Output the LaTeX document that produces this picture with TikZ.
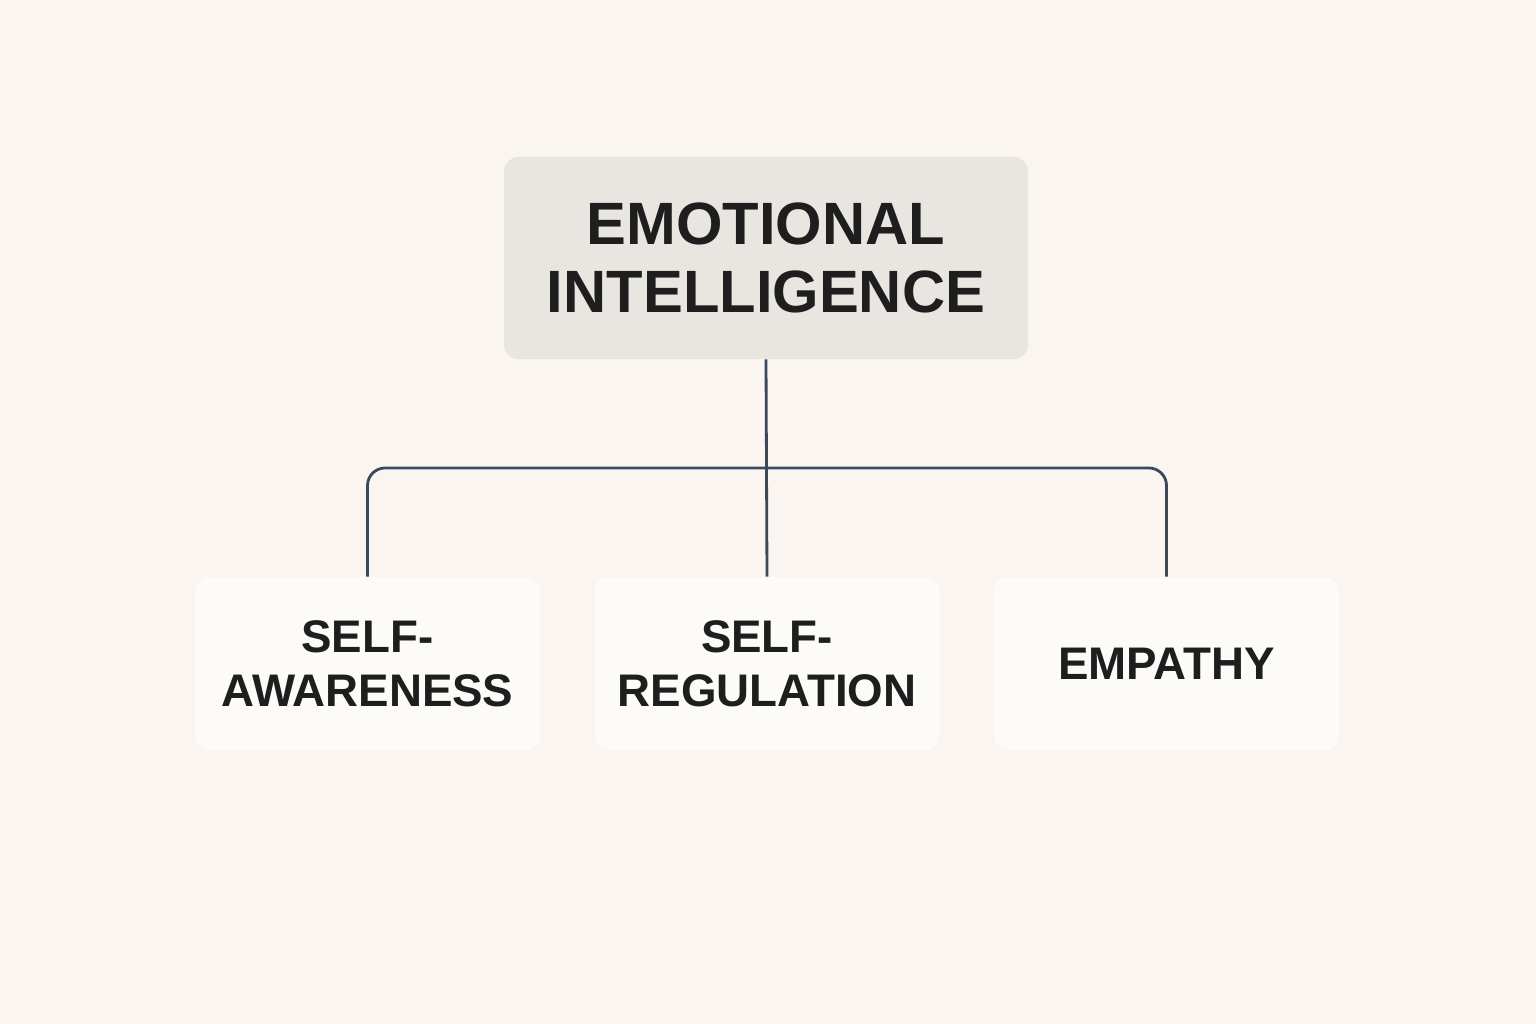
\documentclass[tikz,border=0pt]{standalone}
\usepackage{fontspec}
\setmainfont{Liberation Sans}
\definecolor{bg}{HTML}{FAF5F0}
\definecolor{topc}{HTML}{E9E6E2}
\definecolor{childc}{HTML}{FDFBF8}
\definecolor{linec}{HTML}{3A4A5E}
\definecolor{txt}{HTML}{1E1E1E}
\tikzset{
 box/.style={rounded corners=8pt, inner sep=0pt, align=center, text=txt, font=\bfseries},
 child/.style={box, fill=childc, minimum width=345*0.02cm, minimum height=173*0.02cm,
   font=\fontsize{26}{30.6}\selectfont\bfseries},
 conn/.style={draw=linec, line width=1.6pt, rounded corners=10pt}
}
\begin{document}
\begin{tikzpicture}[x=0.02cm,y=-0.02cm]
\fill[bg] (0,0) rectangle (1536,1024);
\useasboundingbox (0,0) rectangle (1536,1024);
\node[box, fill=topc, minimum width=524*0.02cm, minimum height=202*0.02cm,
  font=\fontsize{34}{38.5}\selectfont\bfseries] (ei) at (766,258) {EMOTIONAL\\INTELLIGENCE};
\node[child] (sa) at (367.5,663.5) {SELF-\\AWARENESS};
\node[child] (sr) at (767,663.5) {SELF-\\REGULATION};
\node[child] (em) at (1166.5,663.5) {EMPATHY};
\coordinate (j) at (766,468);
\draw[conn] (ei.south) -- (sr.north);
\draw[conn] (sa.north) -- (sa.north |- j) -- (em.north |- j) -- (em.north);
\end{tikzpicture}
\end{document}
